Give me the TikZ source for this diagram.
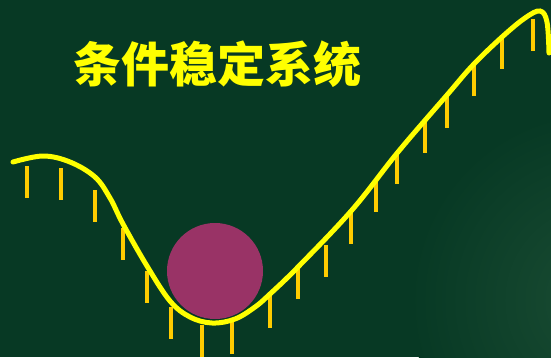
\documentclass[tikz,border=0pt]{standalone}
\usepackage{fontspec}
\newfontfamily\cjk{Noto Sans CJK SC}
\definecolor{bgc}{HTML}{073924}
\definecolor{bgl}{HTML}{1A4C33}
\definecolor{curvec}{HTML}{FFFF00}
\definecolor{tickc}{HTML}{FFCC00}
\definecolor{ballc}{HTML}{993366}
\tikzset{
  track/.style={draw=curvec, line width=5pt, line cap=round},
  tickbar/.style={draw=tickc, line width=4.5pt},
  ball/.style={fill=ballc},
  titletext/.style={text=curvec, font=\cjk\bfseries\fontsize{48}{52}\selectfont, inner sep=0pt}
}
\begin{document}
\begin{tikzpicture}[x=1pt,y=-1pt]
\useasboundingbox (0,0) rectangle (551,357);
\fill[bgc] (0,0) rectangle (551,357);
\begin{scope}
\clip (0,0) rectangle (551,357);
\shade[inner color=bgl, outer color=bgc] (600,300) circle (190);
\end{scope}
\node[titletext] (title) at (217.5,64) {条件稳定系统};
\fill[ball] (215,271) circle (48);
\foreach \x/\t in {27/166,61/168,95/190,123/228,147/271,171/307,202/325,232/322,270/296,298/267,326/245,351/212,376/180,397/152,425/121,447/96,474/64,502/37,533/19}
  \draw[tickbar] (\x,\t) -- (\x,\t+32);
\draw[track] plot[smooth, tension=0.6] coordinates {(13,162) (43,156) (70,162) (95,177) (110,198) (123,224) (147,266) (170,301) (190,317) (212,323) (235,319) (255,307) (270,294) (298,267) (352,210) (398,152) (447,95) (473,65) (502,37) (525,18) (540,11) (547,22) (549,53)};
\end{tikzpicture}
\end{document}
